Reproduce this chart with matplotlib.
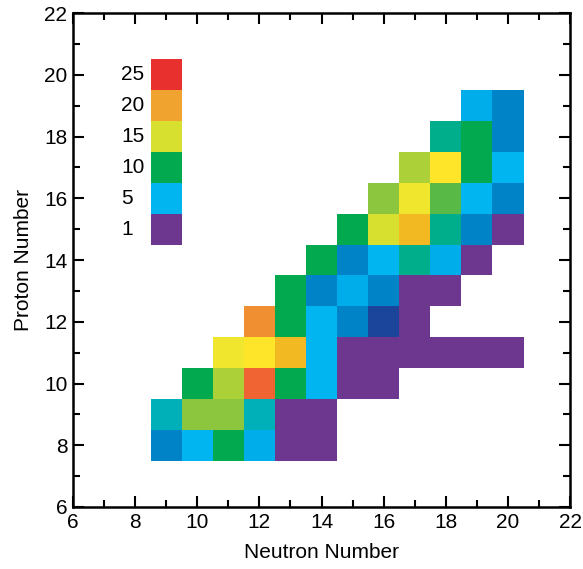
import numpy as np
import matplotlib
matplotlib.use("Agg")
import matplotlib.pyplot as plt
from matplotlib.colors import LinearSegmentedColormap, Normalize

plt.rcParams['font.family'] = ['Liberation Sans', 'DejaVu Sans']

# counts per nuclide: each row is one proton number, starting at a neutron number
protons = [8, 9, 10, 11, 12, 13, 14, 15, 16, 17, 18, 19]
first_neutron = [9, 9, 10, 11, 12, 13, 14, 15, 16, 17, 18, 19]
counts = [
    [3, 5, 10, 4, 1, 1],
    [6, 12, 12, 6, 1, 1],
    [10, 13, 23, 10, 5, 1, 1],
    [16, 17, 18, 5, 1, 1, 1, 1, 1, 1],
    [21, 10, 5, 3, 2, 1],
    [10, 3, 4, 3, 1, 1],
    [10, 3, 5, 8, 4, 1],
    [10, 15, 18, 8, 3, 1],
    [12, 16, 11, 5, 3],
    [13, 17, 10, 5],
    [8, 10, 3],
    [4, 3],
]

legend_values = [1, 5, 10, 15, 20, 25]

# colour scale anchors (value -> colour)
anchor_vals = [1, 2, 3, 4, 5, 6, 8, 10, 11, 12, 13, 15, 16, 17, 18, 20, 21, 23, 25]
anchor_cols = ['#6D368F', '#1A459B', '#0085C8', '#00ADEB', '#00B5F0', '#00B0B8',
               '#00AE8B', '#00A94F', '#58B947', '#8DC63F', '#ABD037', '#D7E02F',
               '#F0E62D', '#FFE62A', '#F2B922', '#F0A32E', '#EF8F31', '#F06432',
               '#E8312F']
vmin, vmax = 1, 25
cmap = LinearSegmentedColormap.from_list(
    'counts', [((v - vmin) / (vmax - vmin), c) for v, c in zip(anchor_vals, anchor_cols)], N=512)
norm = Normalize(vmin, vmax)

n_axis = np.arange(6, 23)
z_axis = np.arange(6, 23)
grid = np.full((len(z_axis), len(n_axis)), np.nan)
for z, n0, row in zip(protons, first_neutron, counts):
    for k, v in enumerate(row):
        grid[z - z_axis[0], n0 + k - n_axis[0]] = v

fig = plt.figure(figsize=(5.83, 5.69), dpi=100)
ax = fig.add_axes([0.125, 0.109, 0.853, 0.868])

ax.pcolormesh(np.append(n_axis, 23) - 0.5, np.append(z_axis, 23) - 0.5,
              np.ma.masked_invalid(grid), cmap=cmap, norm=norm, shading='flat')

# key drawn inside the plot
leg = np.array(legend_values, dtype=float).reshape(-1, 1)
ax.pcolormesh([8.5, 9.5], np.arange(14.5, 14.5 + len(legend_values) + 1), leg,
              cmap=cmap, norm=norm, shading='flat')
for i, v in enumerate(legend_values):
    ax.text(7.55, 15 + i, str(v), ha='left', va='center', fontsize=15)

ax.set_xlim(6, 22)
ax.set_ylim(6, 22)
ax.set_xticks(np.arange(6, 23, 2))
ax.set_yticks(np.arange(6, 23, 2))
ax.set_xticks(np.arange(7, 22, 2), minor=True)
ax.set_yticks(np.arange(7, 22, 2), minor=True)
ax.tick_params(which='both', direction='in', top=True, right=True, width=1.5, labelsize=15)
ax.tick_params(which='major', length=8, pad=4)
ax.tick_params(which='minor', length=5)
for s in ax.spines.values():
    s.set_linewidth(1.8)

ax.set_xlabel('Neutron Number', fontsize=15, labelpad=8)
ax.set_ylabel('Proton Number', fontsize=15, labelpad=8)

fig.savefig('out.png', dpi=100)
